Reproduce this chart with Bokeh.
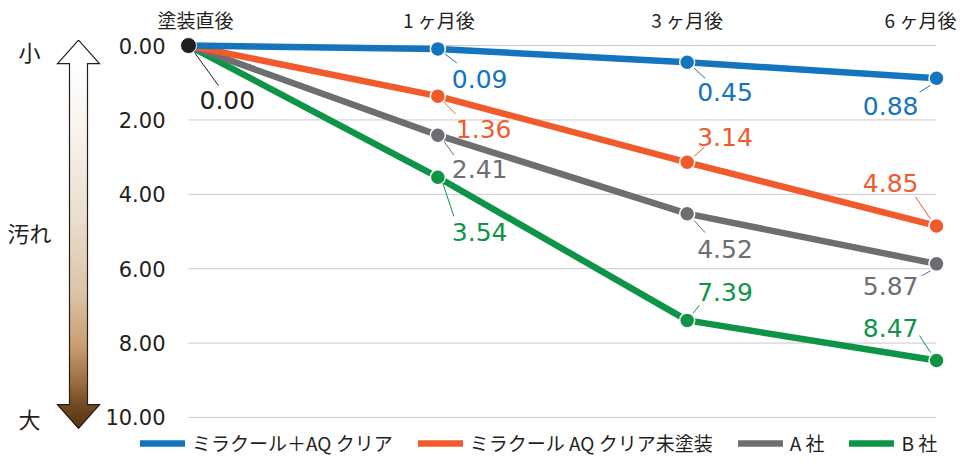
from bokeh.plotting import figure
from bokeh.models import Range1d, Legend, LegendItem
from bokeh.core.properties import value
from bokeh.embed import file_html
from bokeh.resources import INLINE

# ---------------- data ----------------
categories = ["塗装直後", "1 ヶ月後", "3 ヶ月後", "6 ヶ月後"]
series_names = ["ミラクール＋AQ クリア", "ミラクール AQ クリア未塗装", "A 社", "B 社"]
miracool_aq = [0.00, 0.09, 0.45, 0.88]
miracool_uncoated = [0.00, 1.36, 3.14, 4.85]
company_a = [0.00, 2.41, 4.52, 5.87]
company_b = [0.00, 3.54, 7.39, 8.47]
y_ticks = [0, 2, 4, 6, 8, 10]
y_tick_labels = ["0.00", "2.00", "4.00", "6.00", "8.00", "10.00"]
scale_labels = ["小", "汚れ", "大"]
origin_label = "0.00"

# ---------------- styles / geometry ----------------
W, H = 959, 458
X0_REF, X3_REF = 188.0, 936.0       # pixel of first / last category
Y0_REF, SY0 = 47.5, 37.95           # pixel of value 0, pixels per unit (design space)
VS, VA = 0.9800, -1.50              # vertical squeeze of design space into the canvas
SX = (X3_REF - X0_REF) / 3.0
SY = SY0 * VS


def RX(px):
    return (px - X0_REF) / SX


def RY(py):
    return (py - Y0_REF) / SY0


def canvas_to_design_y(fy):
    return (fy - VA) / VS


colors = ["#1574be", "#f15a2b", "#6d6e72", "#0e9446"]
ink = "#231f20"
grid_color = "#c9c9c9"
num_font = value("DejaVu Sans")
jp_font = value("Noto Sans CJK JP")

# label placement per point (indices 1..3): (dx, dy, align, leader x0, y0, x1, y1) in px
label_style = [
    [(14, 30, "left", 7, 5, 19, 14), (10, 30, "left", 7, 6, 18, 16), (-18, 28, "right", -6, 7, -17, 14)],
    [(18, 33, "left", 6, 6, 18, 18), (10, -25, "left", 7, -6, 17, -15), (-18, -43, "right", -6, -7, -21, -29)],
    [(14, 34, "left", 6, 6, 16, 20), (10, 35, "left", 7, 7, 18, 19), (-18, 22, "right", -6, 7, -15, 12)],
    [(14, 55, "left", 5, 6, 16, 39), (10, -28, "left", 6, -7, 12, -15), (-18, -33, "right", -6, -8, -17, -25)],
]
cat_dx = [7, 1, 0, -16]

p = figure(width=W, height=H, output_backend="svg", toolbar_location=None,
           x_range=Range1d(RX(0), RX(W)),
           y_range=Range1d(start=RY(canvas_to_design_y(H)), end=RY(canvas_to_design_y(0))),
           x_axis_location=None, y_axis_location=None,
           min_border=0, min_border_left=0, min_border_right=0,
           min_border_top=0, min_border_bottom=0)
p.outline_line_color = None
p.grid.visible = False
p.background_fill_color = "white"
p.border_fill_color = "white"

xs = list(range(len(categories)))

# grid lines
p.segment(x0=[0] * len(y_ticks), y0=y_ticks, x1=[xs[-1]] * len(y_ticks), y1=y_ticks,
          line_color=grid_color, line_width=1)

# y tick labels
p.text(x=[RX(165)] * len(y_ticks), y=y_ticks, text=y_tick_labels,
       text_align="right", text_baseline="middle", text_font=num_font,
       text_font_size="21px", text_color=ink)

# category labels on top
p.text(x=[x + d / SX for x, d in zip(xs, cat_dx)], y=[RY(21)] * len(xs), text=categories,
       text_align="center", text_baseline="middle", text_font=jp_font,
       text_font_size="19px", text_color=ink)

# ---------------- gradient arrow (decoration) ----------------
stops = [(66, (255, 255, 255)), (140, (247, 242, 236)), (230, (233, 220, 203)),
         (300, (220, 196, 167)), (355, (199, 157, 112)), (395, (150, 105, 60)),
         (415, (112, 74, 36)), (438, (88, 54, 18))]


def grad(py):
    for (a, ca), (b, cb) in zip(stops[:-1], stops[1:]):
        if a <= py <= b:
            t = (py - a) / (b - a)
            c = [round(ca[k] + (cb[k] - ca[k]) * t) for k in range(3)]
            return "#%02x%02x%02x" % tuple(c)
    return "#%02x%02x%02x" % stops[-1][1]


CX, SH, HH = 78.0, 9.0, 21.0          # arrow centre, half shaft width, half head width
TOP_TIP, TOP_BASE, BOT_BASE, BOT_TIP = 42.0, 66.0, 414.0, 438.0
l, r, t, b, qc = [], [], [], [], []
py = TOP_BASE
while py < BOT_BASE:
    l.append(RX(CX - SH)); r.append(RX(CX + SH))
    t.append(RY(py)); b.append(RY(min(py + 2, BOT_BASE)))
    qc.append(grad(py + 1))
    py += 2
p.quad(left=l, right=r, top=t, bottom=b, fill_color=qc, line_color=qc, line_width=1)

hx, hy, hc = [], [], []
py = BOT_BASE
while py < BOT_TIP:
    w0 = HH * (BOT_TIP - py) / (BOT_TIP - BOT_BASE)
    w1 = HH * (BOT_TIP - py - 1) / (BOT_TIP - BOT_BASE)
    hx.append([RX(CX - w0), RX(CX + w0), RX(CX + w1), RX(CX - w1)])
    hy.append([RY(py), RY(py), RY(py + 1), RY(py + 1)])
    hc.append(grad(py + 0.5))
    py += 1
p.patches(xs=hx, ys=hy, fill_color=hc, line_color=hc, line_width=1)

p.patch(x=[RX(CX), RX(CX + HH), RX(CX - HH)], y=[RY(TOP_TIP), RY(TOP_BASE), RY(TOP_BASE)],
        fill_color="white", line_color=None)
ox = [CX, CX + HH, CX + SH, CX + SH, CX + HH, CX, CX - HH, CX - SH, CX - SH, CX - HH, CX]
oy = [TOP_TIP, TOP_BASE, TOP_BASE, BOT_BASE, BOT_BASE, BOT_TIP, BOT_BASE, BOT_BASE,
      TOP_BASE, TOP_BASE, TOP_TIP]
p.line(x=[RX(v) for v in ox], y=[RY(v) for v in oy], line_color=ink, line_width=1.2,
       line_join="miter")

p.text(x=[RX(29)] * 3, y=[RY(53), RY(238), RY(428)], text=scale_labels,
       text_align="center", text_baseline="middle", text_font=jp_font,
       text_font_size="22px", text_color=ink)

# ---------------- series ----------------
all_series = [miracool_aq, miracool_uncoated, company_a, company_b]
line_renderers = [None] * 4
for k in [3, 2, 1, 0]:
    vals = all_series[k]
    c = colors[k]
    line_renderers[k] = p.line(x=xs, y=vals, line_color=c, line_width=6.5,
                               line_cap="round", line_join="round")
for k in [3, 2, 1, 0]:
    vals = all_series[k]
    c = colors[k]
    p.scatter(x=xs[1:], y=vals[1:], size=15, fill_color=c, line_color="white", line_width=1.5)
    lx0, ly0, lx1, ly1 = [], [], [], []
    for i, st in enumerate(label_style[k]):
        dx, dy, align, a0, b0, a1, b1 = st
        x, v = xs[i + 1], vals[i + 1]
        lx0.append(x + a0 / SX); ly0.append(v + b0 / SY)
        lx1.append(x + a1 / SX); ly1.append(v + b1 / SY)
        p.text(x=[x + dx / SX], y=[v + dy / SY], text=["%.2f" % v],
               text_align=align, text_baseline="middle", text_font=num_font,
               text_font_size="25px", text_color=c)
    p.segment(x0=lx0, y0=ly0, x1=lx1, y1=ly1, line_color=c, line_width=1)

# origin point
p.segment(x0=[xs[0] + 6 / SX], y0=[all_series[0][0] + 7 / SY], x1=[xs[0] + 30 / SX],
          y1=[all_series[0][0] + 40 / SY], line_color=ink, line_width=1)
p.scatter(x=[xs[0]], y=[all_series[0][0]], size=16, fill_color=ink, line_color="white",
          line_width=1)
p.text(x=[xs[0] + 11 / SX], y=[all_series[0][0] + 54 / SY], text=[origin_label],
       text_align="left", text_baseline="middle", text_font=num_font,
       text_font_size="25px", text_color=ink)

legend = Legend(items=[LegendItem(label=value(n), renderers=[line_renderers[k]])
                       for k, n in enumerate(series_names)],
                location=(140, 2), orientation="horizontal",
                glyph_width=45, glyph_height=20, label_standoff=7, spacing=25,
                padding=0, margin=0, border_line_color=None, background_fill_alpha=0,
                label_text_font="Noto Sans CJK JP", label_text_font_size="19px",
                label_text_color=ink)
p.add_layout(legend)

open("out.html", "w").write(file_html(p, INLINE))
